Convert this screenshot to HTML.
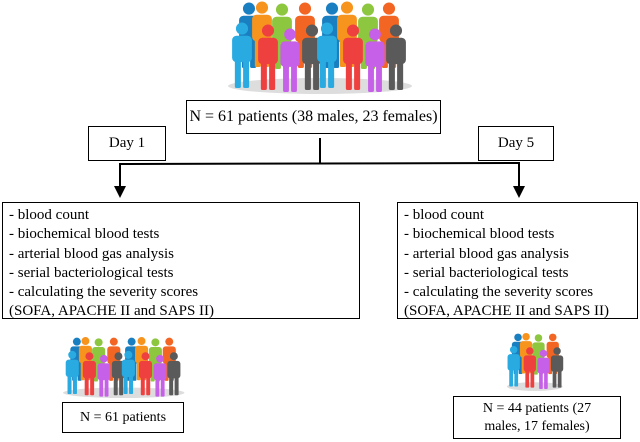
<!DOCTYPE html>
<html><head><meta charset="utf-8"><style>
body{margin:0;width:640px;height:442px;background:#fff;position:relative;overflow:hidden;font-family:"Liberation Serif",serif;color:#000}
.b{position:absolute;border:1.3px solid #000;box-sizing:border-box;background:#fff}
.c{display:flex;align-items:center;justify-content:center;text-align:center}
.t{font-size:15px;line-height:19.3px;padding:3px 0 0 6px}
svg{position:absolute;left:0;top:0}
</style></head><body>
<svg width="640" height="442" viewBox="0 0 640 442">
<defs>
<symbol id="p" viewBox="0 0 20 60"><circle cx="10" cy="6" r="5.5"/><rect x="1" y="12.5" width="18" height="24" rx="4"/><rect x="3.5" y="33" width="5.5" height="27" rx="1.5"/><rect x="11" y="33" width="5.5" height="27" rx="1.5"/></symbol>
<g id="crowd">
<ellipse cx="320" cy="86" rx="92" ry="8" fill="#ddd"/>
<use href="#p" x="238" y="2" width="22" height="66" fill="#1a7fc0"/>
<use href="#p" x="251" y="0" width="22" height="68" fill="#f7941d"/>
<use href="#p" x="271" y="3" width="22" height="66" fill="#8dc63f"/>
<use href="#p" x="294" y="1" width="22" height="68" fill="#f26522"/>
<use href="#p" x="321" y="2" width="22" height="66" fill="#1a7fc0"/>
<use href="#p" x="336" y="0" width="22" height="68" fill="#f7941d"/>
<use href="#p" x="357" y="3" width="22" height="66" fill="#8dc63f"/>
<use href="#p" x="378" y="1" width="22" height="68" fill="#f26522"/>
<use href="#p" x="230" y="22" width="24" height="66" fill="#29abe2"/>
<use href="#p" x="256" y="24" width="24" height="66" fill="#ef4040"/>
<use href="#p" x="278" y="28" width="24" height="64" fill="#c660e8"/>
<use href="#p" x="300" y="24" width="24" height="66" fill="#5a5a5a"/>
<use href="#p" x="315" y="22" width="24" height="66" fill="#29abe2"/>
<use href="#p" x="341" y="24" width="24" height="66" fill="#ef4040"/>
<use href="#p" x="363" y="28" width="24" height="64" fill="#c660e8"/>
<use href="#p" x="384" y="24" width="24" height="66" fill="#5a5a5a"/>
</g>
</defs>
<use href="#crowd"/>
<g transform="translate(63,336) scale(0.66) translate(-228,0)"><use href="#crowd"/></g>
<g transform="translate(505,332) scale(0.62)">
<ellipse cx="48" cy="88" rx="45" ry="7" fill="#ddd"/>
<use href="#p" x="10" y="2" width="22" height="66" fill="#1a7fc0"/>
<use href="#p" x="23" y="0" width="22" height="68" fill="#f7941d"/>
<use href="#p" x="43" y="3" width="22" height="66" fill="#8dc63f"/>
<use href="#p" x="66" y="1" width="22" height="68" fill="#f26522"/>
<use href="#p" x="2" y="22" width="24" height="66" fill="#29abe2"/>
<use href="#p" x="28" y="24" width="24" height="66" fill="#ef4040"/>
<use href="#p" x="50" y="28" width="24" height="64" fill="#c660e8"/>
<use href="#p" x="72" y="24" width="24" height="66" fill="#5a5a5a"/>
</g>
<g stroke="#000" stroke-width="2" fill="none">
<line x1="320" y1="138" x2="320" y2="164"/>
<line x1="119" y1="164" x2="520" y2="163"/>
<line x1="120" y1="164" x2="120" y2="188"/>
<line x1="519" y1="163" x2="519" y2="188"/>
</g>
<polygon points="114,186 126,186 120,198" fill="#000"/>
<polygon points="513,186 525,186 519,198" fill="#000"/>
</svg>
<div class="b c" style="left:186px;top:100px;width:255px;height:34px;font-size:16px">N = 61 patients (38 males, 23 females)</div>
<div class="b c" style="left:88px;top:126px;width:78px;height:35px;font-size:15px">Day 1</div>
<div class="b c" style="left:478px;top:126px;width:76px;height:35px;font-size:15px">Day 5</div>
<div class="b t" style="left:2px;top:202px;width:358px;height:117px">- blood count<br>- biochemical blood tests<br>- arterial blood gas analysis<br>- serial bacteriological tests<br>- calculating the severity scores<br>(SOFA, APACHE II and SAPS II)</div>
<div class="b t" style="left:397px;top:202px;width:241px;height:117px">- blood count<br>- biochemical blood tests<br>- arterial blood gas analysis<br>- serial bacteriological tests<br>- calculating the severity scores<br>(SOFA, APACHE II and SAPS II)</div>
<div class="b c" style="left:62px;top:402px;width:122px;height:31px;font-size:14px">N = 61 patients</div>
<div class="b c" style="left:453px;top:396px;width:168px;height:43px;font-size:14px;line-height:18px">N = 44 patients (27<br>males, 17 females)</div>
</body></html>
